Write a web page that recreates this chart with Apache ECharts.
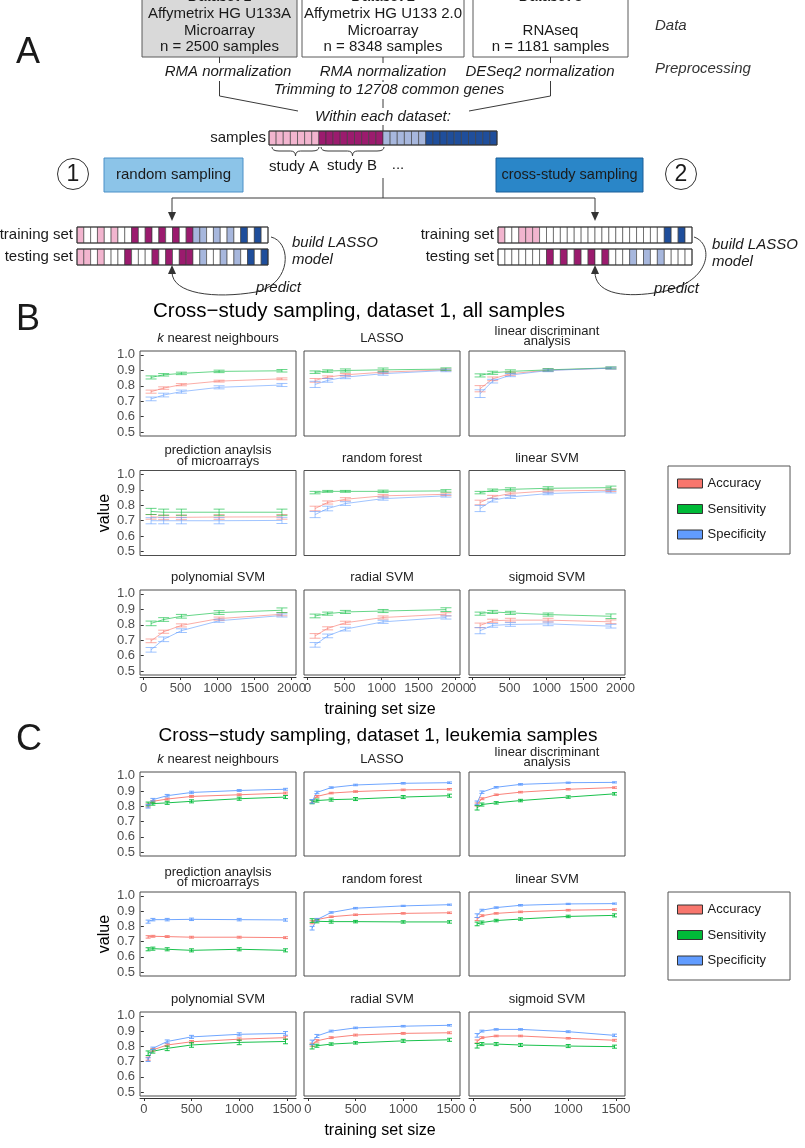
<!DOCTYPE html>
<html>
<head>
<meta charset="utf-8">
<title>Cross-study sampling</title>
<script src="https://cdn.jsdelivr.net/npm/echarts@6/dist/echarts.min.js"></script>
<style>
  html, body { margin: 0; padding: 0; background: #fff; }
  #chart { width: 805px; height: 1148px; }
</style>
</head>
<body>
<div id="chart"></div>
<script>
// ---- data ----
var metrics = ['Accuracy', 'Sensitivity', 'Specificity'];
var metricColors = ['#F8766D', '#00BA38', '#619CFF'];
var methods = ['{i|k} nearest neighbours', 'LASSO', 'linear discriminant\nanalysis',
               'prediction anaylsis\nof microarrays', 'random forest', 'linear SVM',
               'polynomial SVM', 'radial SVM', 'sigmoid SVM'];
var yTicks = [0.5, 0.6, 0.7, 0.8, 0.9, 1.0];

// panel B: all samples
var sizesB = [100, 270, 510, 1020, 1870];
var xTicksB = [0, 500, 1000, 1500, 2000];
var accB = [
  [0.762, 0.785, 0.807, 0.830, 0.845],
  [0.835, 0.856, 0.871, 0.888, 0.903],
  [0.781, 0.845, 0.878, 0.901, 0.914],
  [0.725, 0.722, 0.722, 0.724, 0.725],
  [0.779, 0.818, 0.839, 0.861, 0.871],
  [0.818, 0.854, 0.876, 0.893, 0.897],
  [0.696, 0.755, 0.796, 0.840, 0.868],
  [0.728, 0.777, 0.813, 0.847, 0.868],
  [0.796, 0.826, 0.830, 0.830, 0.819]];
var senB = [
  [0.854, 0.871, 0.880, 0.893, 0.897],
  [0.888, 0.895, 0.899, 0.903, 0.908],
  [0.867, 0.884, 0.893, 0.903, 0.916],
  [0.760, 0.755, 0.755, 0.755, 0.755],
  [0.882, 0.890, 0.890, 0.890, 0.893],
  [0.882, 0.897, 0.903, 0.910, 0.914],
  [0.809, 0.834, 0.855, 0.879, 0.894],
  [0.857, 0.872, 0.883, 0.889, 0.898],
  [0.872, 0.883, 0.877, 0.866, 0.855]];
var speB = [
  [0.715, 0.740, 0.762, 0.790, 0.805],
  [0.809, 0.835, 0.856, 0.878, 0.899],
  [0.749, 0.830, 0.869, 0.899, 0.914],
  [0.700, 0.700, 0.700, 0.700, 0.702],
  [0.740, 0.779, 0.811, 0.843, 0.861],
  [0.779, 0.833, 0.854, 0.876, 0.888],
  [0.638, 0.706, 0.762, 0.826, 0.860],
  [0.670, 0.728, 0.772, 0.819, 0.847],
  [0.762, 0.796, 0.802, 0.806, 0.791]];
var accErrB = [
  [.010, .008, .007, .006, .006], [.012, .008, .008, .008, .006], [.020, .012, .010, .008, .006],
  [.015, .015, .015, .015, .015], [.015, .010, .010, .008, .008], [.015, .010, .010, .008, .008],
  [.012, .010, .010, .010, .010], [.015, .010, .010, .010, .010], [.015, .010, .012, .012, .012]];
var senErrB = [
  [.010, .008, .008, .008, .008], [.008, .008, .010, .012, .008], [.010, .010, .010, .008, .006],
  [.020, .020, .020, .020, .020], [.008, .006, .006, .008, .008], [.008, .008, .010, .010, .010],
  [.015, .012, .012, .012, .015], [.012, .010, .010, .010, .012], [.010, .010, .010, .010, .015]];
var speErrB = [
  [.012, .012, .010, .010, .010], [.020, .012, .010, .010, .008], [.025, .012, .010, .008, .006],
  [.020, .020, .020, .020, .020], [.020, .015, .012, .010, .008], [.020, .012, .010, .008, .008],
  [.015, .015, .012, .010, .010], [.015, .012, .012, .010, .010], [.020, .012, .012, .012, .012]];

// panel C: leukemia samples
var sizesC = [45, 95, 245, 500, 1000, 1485];
var xTicksC = [0, 500, 1000, 1500];
var accC = [
  [0.806, 0.833, 0.848, 0.865, 0.876, 0.887],
  [0.833, 0.865, 0.887, 0.897, 0.908, 0.912],
  [0.812, 0.850, 0.876, 0.893, 0.912, 0.923],
  [0.731, 0.735, 0.733, 0.729, 0.729, 0.726],
  [0.827, 0.844, 0.863, 0.876, 0.885, 0.889],
  [0.848, 0.870, 0.885, 0.895, 0.906, 0.910],
  [0.719, 0.777, 0.809, 0.830, 0.847, 0.857],
  [0.811, 0.836, 0.857, 0.874, 0.885, 0.889],
  [0.832, 0.857, 0.868, 0.868, 0.853, 0.840]];
var senC = [
  [0.816, 0.818, 0.823, 0.833, 0.850, 0.861],
  [0.829, 0.838, 0.844, 0.848, 0.861, 0.870],
  [0.791, 0.812, 0.823, 0.838, 0.861, 0.882],
  [0.650, 0.654, 0.650, 0.643, 0.650, 0.643],
  [0.838, 0.833, 0.831, 0.831, 0.829, 0.829],
  [0.816, 0.825, 0.838, 0.848, 0.865, 0.872],
  [0.755, 0.768, 0.787, 0.809, 0.826, 0.832],
  [0.798, 0.804, 0.815, 0.823, 0.836, 0.843],
  [0.804, 0.815, 0.815, 0.809, 0.802, 0.798]];
var speC = [
  [0.801, 0.844, 0.870, 0.891, 0.904, 0.912],
  [0.833, 0.891, 0.923, 0.940, 0.951, 0.955],
  [0.823, 0.893, 0.925, 0.944, 0.955, 0.957],
  [0.831, 0.844, 0.844, 0.846, 0.844, 0.842],
  [0.788, 0.844, 0.891, 0.919, 0.934, 0.942],
  [0.870, 0.906, 0.923, 0.938, 0.947, 0.949],
  [0.713, 0.787, 0.832, 0.862, 0.879, 0.885],
  [0.826, 0.868, 0.900, 0.921, 0.932, 0.938],
  [0.872, 0.900, 0.911, 0.911, 0.896, 0.872]];
var accErrC = [
  [.010, .006, .006, .006, .006, .006], [.010, .006, .005, .005, .005, .005], [.010, .006, .005, .005, .005, .005],
  [.008, .006, .006, .006, .006, .006], [.010, .006, .005, .005, .005, .005], [.010, .006, .005, .005, .005, .005],
  [.010, .008, .008, .008, .008, .010], [.010, .008, .006, .006, .006, .006], [.010, .006, .005, .005, .005, .006]];
var senErrC = [
  [.012, .010, .010, .010, .010, .010], [.012, .010, .010, .010, .010, .010], [.015, .010, .008, .008, .008, .008],
  [.010, .010, .010, .010, .010, .010], [.012, .010, .010, .008, .008, .008], [.012, .010, .008, .008, .008, .010],
  [.015, .012, .015, .015, .015, .015], [.015, .010, .008, .008, .010, .010], [.015, .010, .010, .010, .010, .010]];
var speErrC = [
  [.012, .008, .008, .008, .006, .006], [.012, .008, .005, .005, .005, .005], [.012, .008, .005, .005, .004, .004],
  [.010, .008, .008, .008, .008, .008], [.012, .008, .005, .005, .004, .004], [.012, .006, .005, .005, .004, .004],
  [.012, .008, .010, .010, .010, .012], [.015, .010, .006, .005, .005, .005], [.012, .006, .005, .005, .006, .008]];

// diagram sample bars (P pink = study A, M magenta = study B, L light blue, D dark blue, W unused)
var samplesBar = 'PPPPPPPMMMMMMMMMLLLLLLDDDDDDDDDD';
var randomTrain = 'PWWPWPWWMWMWMWMWMLLWLWLWDWDW';
var randomTest  = 'PPWPWWWMWWWMWMWMMWLWWLWLWDWD';
var crossTrain  = 'PWWPPPWWWWWWWWWWWWWWWWWWDWDW';
var crossTest   = 'WWWWWWWMWMWMWMWMWWWLWLWLWWWW';

// ---- layout ----
var FONT = '"Liberation Sans", Arial, sans-serif';
var cellColors = { P: '#f2b5cf', M: '#9b1b6e', L: '#a7b7dd', D: '#1f4e9b', W: '#ffffff' };
var colLeft = [140, 304, 469], panelW = 156;

var panels = [
  { top: 351, pitch: 119.5, h: 85, sizes: sizesB, xTicks: xTicksB, xMin: -50, xMax: 2060,
    vals: [accB, senB, speB], errs: [accErrB, senErrB, speErrB], opacity: 0.6, cap: 5.5,
    title: 'Cross\u2212study sampling, dataset 1, all samples', titleX: 359, titleY: 311, titleSize: 20.5,
    legendTop: 466, letter: 'B', letterY: 320 },
  { top: 772, pitch: 120, h: 84, sizes: sizesC, xTicks: xTicksC, xMin: -40, xMax: 1595,
    vals: [accC, senC, speC], errs: [accErrC, senErrC, speErrC], opacity: 0.9, cap: 2.5,
    title: 'Cross\u2212study sampling, dataset 1, leukemia samples', titleX: 378, titleY: 736, titleSize: 19,
    legendTop: 892, letter: 'C', letterY: 740 }
];

function T(x, y, s, size, o) {
  o = o || {};
  return { type: 'text', x: x, y: y, silent: true, z: 20,
    style: { text: s, fontSize: size, fontFamily: FONT, fontStyle: o.italic ? 'italic' : 'normal',
      fill: o.fill || '#1a1a1a', textAlign: o.align || 'center', textVerticalAlign: 'middle',
      lineHeight: o.lh || size * 1.15, rich: o.rich } };
}
var STROKE = { stroke: '#3a3a3a', lineWidth: 1, fill: 'none' };
function L(x1, y1, x2, y2) {
  return { type: 'line', silent: true, z: 5, shape: { x1: x1, y1: y1, x2: x2, y2: y2 }, style: STROKE };
}
function Q(x1, y1, cx, cy, x2, y2) {
  return { type: 'bezierCurve', silent: true, z: 5,
    shape: { x1: x1, y1: y1, cpx1: cx, cpy1: cy, x2: x2, y2: y2 }, style: STROKE };
}
function C(x1, y1, c1x, c1y, c2x, c2y, x2, y2) {
  return { type: 'bezierCurve', silent: true, z: 5,
    shape: { x1: x1, y1: y1, cpx1: c1x, cpy1: c1y, cpx2: c2x, cpy2: c2y, x2: x2, y2: y2 }, style: STROKE };
}
function tri(pts) {
  return { type: 'polygon', silent: true, z: 5, shape: { points: pts }, style: { fill: '#333' } };
}
function brace(x1, x2, y) {
  var m = (x1 + x2) / 2;
  return [Q(x1, y, x1, y + 4, x1 + 7, y + 4), L(x1 + 7, y + 4, m - 5, y + 4), Q(m - 5, y + 4, m, y + 4, m, y + 9),
          Q(m, y + 9, m, y + 4, m + 5, y + 4), L(m + 5, y + 4, x2 - 7, y + 4), Q(x2 - 7, y + 4, x2, y + 4, x2, y)];
}
function R(x, y, w, h, fill, stroke) {
  return { type: 'rect', silent: true, z: 4, shape: { x: x, y: y, width: w, height: h },
    style: { fill: fill, stroke: stroke || '#5a5a5a', lineWidth: 1 } };
}
function bar(x, y, w, h, pattern) {
  var out = [], cw = w / pattern.length;
  for (var i = 0; i < pattern.length; i++) {
    out.push({ type: 'rect', silent: true, z: 4, shape: { x: x + i * cw, y: y, width: cw, height: h },
      style: { fill: cellColors[pattern[i]], stroke: '#3a3a3a', lineWidth: 0.6 } });
  }
  out.push({ type: 'rect', silent: true, z: 5, shape: { x: x, y: y, width: w, height: h },
    style: { fill: 'none', stroke: '#333', lineWidth: 1 } });
  return out;
}

var g = [];
// ---- panel A diagram ----
var DS = 15; // diagram font size
g.push(T(16, 53, 'A', 36, { align: 'left' }));
g.push(R(142, -20, 155, 77, '#d9d9d9'), R(302, -20, 162, 77, '#ffffff'), R(473, -20, 155, 77, '#ffffff'));
var boxText = [
  [219.5, ['Dataset 1', 'Affymetrix HG U133A', 'Microarray', 'n = 2500 samples']],
  [383, ['Dataset 2', 'Affymetrix HG U133 2.0', 'Microarray', 'n = 8348 samples']],
  [550.5, ['Dataset 3', '', 'RNAseq', 'n = 1181 samples']]];
boxText.forEach(function (b) {
  [-3, 14, 31, 47].forEach(function (yy, j) { if (b[1][j]) g.push(T(b[0], yy, b[1][j], DS)); });
});
g.push(T(655, 26, 'Data', 15, { italic: true, align: 'left', fill: '#333' }));
g.push(T(655, 69, 'Preprocessing', 15, { italic: true, align: 'left', fill: '#333' }));
g.push(T(228, 72, 'RMA normalization', DS, { italic: true }));
g.push(T(383, 72, 'RMA normalization', DS, { italic: true }));
g.push(T(540, 72, 'DESeq2 normalization', DS, { italic: true }));
g.push(T(389, 90, 'Trimming to 12708 common genes', DS, { italic: true }));
g.push(T(383, 117, 'Within each dataset:', DS, { italic: true }));
g.push(L(219.5, 57, 219.5, 63), L(219.5, 81, 219.5, 96), L(219.5, 96, 298, 111));
g.push(L(550.5, 57, 550.5, 63), L(550.5, 81, 550.5, 96), L(550.5, 96, 469, 111));
g.push(L(383, 57, 383, 63), L(383, 80, 383, 82), L(383, 99, 383, 108), L(383, 125, 383, 131));

g.push(T(266, 138, 'samples', DS, { align: 'right' }));
g = g.concat(bar(269, 131, 228, 14, samplesBar));
g = g.concat(brace(272, 319, 147), brace(321, 384, 147));
g.push(T(294, 167, 'study A', DS), T(352, 166, 'study B', DS), T(398, 165, '...', DS));

g.push({ type: 'circle', silent: true, z: 5, shape: { cx: 73, cy: 174, r: 15.5 }, style: { fill: '#fff', stroke: '#333', lineWidth: 1 } });
g.push({ type: 'circle', silent: true, z: 5, shape: { cx: 681, cy: 174, r: 15.5 }, style: { fill: '#fff', stroke: '#333', lineWidth: 1 } });
g.push(T(73, 175, '1', 23), T(681, 175, '2', 23));
g.push(R(104, 158, 139, 34, '#8cc4e8', '#4a90c8'), R(496, 158, 147, 34, '#2a86c8', '#1a5f99'));
g.push(T(173.5, 175, 'random sampling', DS), T(569.5, 175, 'cross-study sampling', 14.5));

g.push(L(383, 178, 383, 198), L(172, 198, 595, 198), L(172, 198, 172, 213), L(595, 198, 595, 213));
g.push(tri([[168, 212], [176, 212], [172, 221]]), tri([[591, 212], [599, 212], [595, 221]]));

g.push(T(73, 235, 'training set', DS, { align: 'right' }), T(73, 257, 'testing set', DS, { align: 'right' }));
g.push(T(494, 235, 'training set', DS, { align: 'right' }), T(494, 257, 'testing set', DS, { align: 'right' }));
g = g.concat(bar(77, 227, 191, 16, randomTrain), bar(77, 249, 191, 16, randomTest));
g = g.concat(bar(498, 227, 194, 16, crossTrain), bar(498, 249, 194, 16, crossTest));
g.push(T(292, 243, 'build LASSO', DS, { italic: true, align: 'left' }), T(292, 260, 'model', DS, { italic: true, align: 'left' }));
g.push(T(712, 245, 'build LASSO', DS, { italic: true, align: 'left' }), T(712, 262, 'model', DS, { italic: true, align: 'left' }));
g.push(T(256, 288, 'predict', DS, { italic: true, align: 'left' }), T(654, 289, 'predict', DS, { italic: true, align: 'left' }));
g.push(C(271, 237, 292, 242, 292, 284, 256, 292), C(256, 292, 215, 299, 172, 294, 172, 272));
g.push(tri([[168, 274], [176, 274], [172, 265]]));
g.push(C(694, 237, 715, 244, 712, 286, 654, 293), C(654, 293, 620, 298, 595, 292, 595, 272));
g.push(tri([[591, 274], [599, 274], [595, 265]]));

// ---- panels B and C ----
var grids = [], xAxes = [], yAxes = [], series = [], legends = [];
function errRender(cap, color, opacity) {
  return function (params, api) {
    var x = api.value(0);
    var a = api.coord([x, api.value(1)]), b = api.coord([x, api.value(2)]);
    var st = { stroke: color, lineWidth: 1, opacity: opacity };
    return { type: 'group', children: [
      { type: 'line', shape: { x1: a[0], y1: a[1], x2: b[0], y2: b[1] }, style: st },
      { type: 'line', shape: { x1: a[0] - cap, y1: a[1], x2: a[0] + cap, y2: a[1] }, style: st },
      { type: 'line', shape: { x1: b[0] - cap, y1: b[1], x2: b[0] + cap, y2: b[1] }, style: st }] };
  };
}

panels.forEach(function (p) {
  g.push(T(16, p.letterY, p.letter, 36, { align: 'left' }));
  g.push(T(p.titleX, p.titleY, p.title, p.titleSize, { fill: '#000' }));
  g.push(T(380, p.top + 2 * p.pitch + p.h + 35, 'training set size', 16, { fill: '#000' }));
  var vy = p.top + p.pitch + p.h / 2;
  g.push({ type: 'text', x: 105, y: vy, rotation: Math.PI / 2, silent: true, z: 20,
    style: { text: 'value', fontSize: 16, fontFamily: FONT, fill: '#000', textAlign: 'center', textVerticalAlign: 'middle' } });

  methods.forEach(function (name, i) {
    var row = Math.floor(i / 3), col = i % 3, k = grids.length;
    var top = p.top + row * p.pitch, left = colLeft[col];
    var twoLine = name.indexOf('\n') >= 0;
    g.push(T(left + panelW / 2, twoLine ? top - 14.5 : top - 12.5, name, 13,
      { lh: 10.5, fill: '#222', rich: { i: { fontStyle: 'italic', fontSize: 13, fontFamily: FONT, fill: '#222' } } }));
    grids.push({ left: left, top: top, width: panelW, height: p.h, show: true,
      borderColor: '#4d4d4d', borderWidth: 1, backgroundColor: '#fff' });
    var bottom = row === 2;
    xAxes.push({ type: 'value', gridIndex: k, min: p.xMin, max: p.xMax, offset: 2,
      axisLine: { show: bottom, lineStyle: { color: '#333' } },
      axisTick: { show: bottom, length: 3, customValues: p.xTicks, lineStyle: { color: '#333' } },
      axisLabel: { show: bottom, customValues: p.xTicks, fontSize: 13, color: '#4d4d4d', margin: 5, fontFamily: FONT,
        formatter: function (v) { return String(v); } },
      splitLine: { show: false } });
    yAxes.push({ type: 'value', gridIndex: k, min: 0.475, max: 1.025,
      axisLine: { show: false },
      axisTick: { show: col === 0, length: 3, customValues: yTicks, lineStyle: { color: '#333' } },
      axisLabel: { show: col === 0, customValues: yTicks, fontSize: 13, color: '#4d4d4d', margin: 5, fontFamily: FONT,
        formatter: function (v) { return v.toFixed(1); } },
      splitLine: { show: false } });
    metrics.forEach(function (m, mi) {
      var vals = p.vals[mi][i], errs = p.errs[mi][i];
      series.push({ type: 'line', name: m, xAxisIndex: k, yAxisIndex: k, silent: true, animation: false,
        showSymbol: false, symbol: 'none', z: 3,
        itemStyle: { color: metricColors[mi] },
        lineStyle: { color: metricColors[mi], width: 1, opacity: p.opacity },
        data: p.sizes.map(function (x, j) { return [x, vals[j]]; }) });
      series.push({ type: 'custom', name: m, xAxisIndex: k, yAxisIndex: k, silent: true, animation: false, z: 4,
        renderItem: errRender(p.cap, metricColors[mi], p.opacity),
        encode: { x: 0, y: [1, 2] },
        data: p.sizes.map(function (x, j) { return [x, vals[j] - errs[j], vals[j] + errs[j]]; }) });
    });
  });

  legends.push({ orient: 'vertical', left: 668, top: p.legendTop, selectedMode: false,
    itemWidth: 25, itemHeight: 9, itemGap: 12.5, padding: [11, 24, 13, 9],
    borderColor: '#555', borderWidth: 1, backgroundColor: '#fff',
    textStyle: { fontSize: 13, color: '#1a1a1a', fontFamily: FONT },
    data: metrics.map(function (m, mi) {
      return { name: m, icon: 'rect', itemStyle: { color: metricColors[mi], borderColor: '#333', borderWidth: 1, opacity: 1 } };
    }) });
});

var chart = echarts.init(document.getElementById('chart'));
chart.setOption({
  animation: false,
  backgroundColor: '#fff',
  textStyle: { fontFamily: FONT },
  grid: grids,
  xAxis: xAxes,
  yAxis: yAxes,
  legend: legends,
  series: series,
  graphic: { elements: g }
});
</script>
</body>
</html>
